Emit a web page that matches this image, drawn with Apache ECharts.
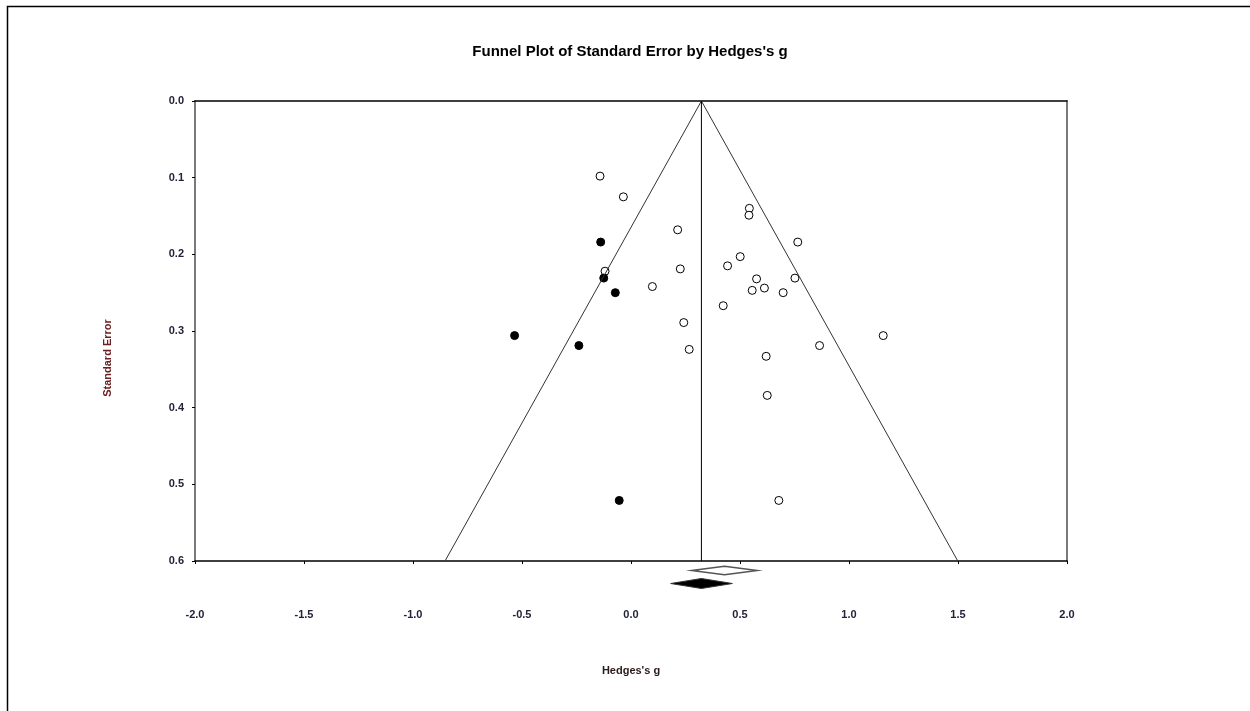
<!DOCTYPE html>
<html>
<head>
<meta charset="utf-8">
<script src="https://cdn.jsdelivr.net/npm/echarts@6/dist/echarts.min.js"></script>
<style>
  html, body { margin: 0; padding: 0; background: #fff; }
  #main { width: 1250px; height: 711px; }
</style>
</head>
<body>
<div id="main"></div>
<script>
  // observed studies (open circles): [Hedges's g, standard error]
  const observedG = [-0.142, -0.035, 0.214, -0.119, 0.226, 0.098, 0.242, 0.267, 0.543, 0.541, 0.765, 0.501,
    0.443, 0.576, 0.752, 0.556, 0.612, 0.698, 0.423, 1.157, 0.865, 0.620, 0.625, 0.678]
  const observedSE = [0.098, 0.125, 0.168, 0.222, 0.219, 0.242, 0.289, 0.324, 0.140, 0.149, 0.184, 0.203,
    0.215, 0.232, 0.231, 0.247, 0.244, 0.250, 0.267, 0.306, 0.319, 0.333, 0.384, 0.521]

  // imputed studies (filled circles)
  const imputedG = [-0.139, -0.125, -0.072, -0.534, -0.239, -0.054]
  const imputedSE = [0.184, 0.231, 0.250, 0.306, 0.319, 0.521]

  // combined estimates (diamonds): observed, adjusted
  const diamondCenter = [0.429, 0.323]
  const diamondLower = [0.278, 0.182]
  const diamondUpper = [0.579, 0.465]

  const meanEffect = 0.323
  const seMax = 0.6
  const z = 1.96

  const xTicks = { min: -2, max: 2, interval: 0.5 }
  const yTicks = { min: 0, max: 0.6, interval: 0.1 }

  const font = "'Liberation Sans', Arial, sans-serif"
  const labelColor = '#22223a'

  const chart = echarts.init(document.getElementById('main'))

  const observed = observedG.map((g, i) => [g, observedSE[i]])
  const imputed = imputedG.map((g, i) => [g, imputedSE[i]])
  const diamonds = diamondCenter.map((c, i) => [c, diamondLower[i], diamondUpper[i], i])

  const funnel = [
    [meanEffect - z * seMax, seMax],
    [meanEffect, 0],
    [meanEffect + z * seMax, seMax],
  ]

  const opts = {
    animation: false,
    grid: { left: 195, top: 101, right: 183, bottom: 150 },
    xAxis: [
      {
        type: 'value',
        position: 'bottom',
        min: xTicks.min,
        max: xTicks.max,
        interval: xTicks.interval,
        axisLine: { show: true, onZero: false, lineStyle: { color: '#000', width: 1.5 } },
        axisTick: { show: true, length: 3, lineStyle: { color: '#000' } },
        axisLabel: {
          margin: 48,
          color: labelColor,
          fontFamily: font,
          fontWeight: 'bold',
          fontSize: 11,
          formatter: v => v.toFixed(1),
        },
        splitLine: { show: false },
        name: "Hedges's g",
        nameLocation: 'middle',
        nameGap: 104,
        nameTextStyle: { color: '#2a1a1a', fontFamily: font, fontWeight: 'bold', fontSize: 11 },
      },
      {
        type: 'value',
        position: 'top',
        min: xTicks.min,
        max: xTicks.max,
        axisLine: { show: true, onZero: false, lineStyle: { color: '#000', width: 1.5 } },
        axisTick: { show: false },
        axisLabel: { show: false },
        splitLine: { show: false },
      },
    ],
    yAxis: [
      {
        type: 'value',
        position: 'left',
        inverse: true,
        min: yTicks.min,
        max: yTicks.max,
        interval: yTicks.interval,
        axisLine: { show: true, onZero: false, lineStyle: { color: '#7a7a7a', width: 2 } },
        axisTick: { show: true, length: 3, lineStyle: { color: '#000' } },
        axisLabel: {
          margin: 11,
          color: labelColor,
          fontFamily: font,
          fontWeight: 'bold',
          fontSize: 11,
          formatter: v => v.toFixed(1),
        },
        splitLine: { show: false },
      },
      {
        type: 'value',
        position: 'right',
        inverse: true,
        min: yTicks.min,
        max: yTicks.max,
        axisLine: { show: true, onZero: false, lineStyle: { color: '#7a7a7a', width: 2 } },
        axisTick: { show: false },
        axisLabel: { show: false },
        splitLine: { show: false },
      },
    ],
    graphic: [
      {
        type: 'polyline',
        shape: { points: [[7.5, 711], [7.5, 6.5], [1250, 6.5]] },
        style: { stroke: '#000', lineWidth: 1.5, fill: null },
      },
      {
        type: 'text',
        x: 630,
        y: 52,
        style: {
          text: "Funnel Plot of Standard Error by Hedges's g",
          font: 'bold 15px ' + font,
          fill: '#000',
          align: 'center',
          verticalAlign: 'middle',
        },
      },
      {
        type: 'text',
        x: 108,
        y: 358,
        rotation: Math.PI / 2,
        style: {
          text: 'Standard Error',
          font: 'bold 11px ' + font,
          fill: '#6a2020',
          align: 'center',
          verticalAlign: 'middle',
        },
      },
    ],
    series: [
      {
        name: 'funnel',
        type: 'line',
        data: funnel,
        symbol: 'none',
        lineStyle: { color: '#333', width: 1 },
        silent: true,
      },
      {
        name: 'mean',
        type: 'line',
        data: [[meanEffect, 0], [meanEffect, seMax]],
        symbol: 'none',
        lineStyle: { color: '#000', width: 1 },
        silent: true,
      },
      {
        name: 'observed',
        type: 'scatter',
        data: observed,
        symbol: 'circle',
        symbolSize: 8,
        itemStyle: { color: '#fff', borderColor: '#000', borderWidth: 1, opacity: 1 },
      },
      {
        name: 'imputed',
        type: 'scatter',
        data: imputed,
        symbol: 'circle',
        symbolSize: 8,
        itemStyle: { color: '#000', borderColor: '#000', borderWidth: 1, opacity: 1 },
      },
      {
        name: 'diamonds',
        type: 'custom',
        clip: false,
        data: diamonds,
        renderItem (params, api) {
          const kind = api.value(3)
          const base = api.coord([0, seMax])[1]
          const y = base + [9.5, 22.5][kind]
          const h = [4.3, 5][kind]
          const c = api.coord([api.value(0), seMax])[0]
          const lo = api.coord([api.value(1), seMax])[0]
          const hi = api.coord([api.value(2), seMax])[0]
          return {
            type: 'polygon',
            shape: { points: [[lo, y], [c, y - h], [hi, y], [c, y + h]] },
            style: kind === 0
              ? { fill: '#fff', stroke: '#555', lineWidth: 1.5 }
              : { fill: '#000', stroke: '#333', lineWidth: 1 },
          }
        },
      },
    ],
  }

  chart.setOption(opts)
</script>
</body>
</html>
